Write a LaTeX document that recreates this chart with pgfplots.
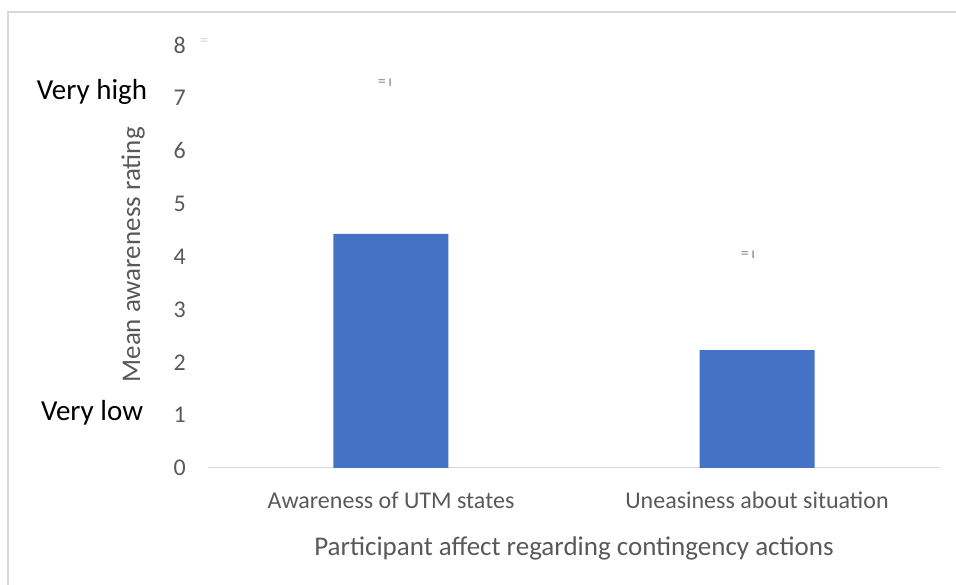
\documentclass[border=0pt]{standalone}
\usepackage{pgfplots}
\pgfplotsset{compat=1.18}
\usepackage{fontspec}
\setmainfont{Carlito}
\definecolor{barblue}{HTML}{4472C4}
\definecolor{txt}{HTML}{595959}
\definecolor{axgray}{HTML}{D9D9D9}
\begin{document}
\begin{tikzpicture}[x=1pt,y=1pt]
\path[use as bounding box] (-208,-117) rectangle (748,468);
\draw[axgray,line width=1.2pt] (-200,-117) -- (-200,456) -- (748,456);
\begin{axis}[
  at={(0,0)}, anchor=south west,
  scale only axis, width=732pt, height=423pt,
  xmin=-0.5, xmax=1.5, ymin=0, ymax=8,
  ytick={0,1,...,8},
  xtick={0,1},
  xticklabels={Awareness of UTM states, Uneasiness about situation},
  axis y line=none,
  axis x line*=bottom,
  axis line style={axgray, line width=1pt, -},
  x axis line style={-},
  xtick style={draw=none},
  ytick style={draw=none},
  ybar, bar width=115pt,
  tick label style={font=\fontsize{24}{28}\selectfont, text=txt},
  xticklabel style={yshift=-16pt},
  /pgf/number format/assume math mode=true,
  clip=false,
]
\addplot[fill=barblue, draw=none] coordinates {(0,4.43) (1,2.23)};
\pgfplotsextra{
  \foreach \v in {0,...,8} {\node[anchor=east, text=txt, font=\fontsize{24}{28}\selectfont, inner sep=0pt] at (axis cs:-0.5,\v) [xshift=-22pt] {\v};}
}
\node[xshift=-75pt, rotate=90, text=txt, font=\fontsize{27}{32}\selectfont] at (axis cs:-0.5,4.03) {Mean awareness rating};
\node[text=txt, font=\fontsize{27}{32}\selectfont] at (axis cs:0.5,0) [yshift=-80pt] {Participant affect regarding contingency actions};
\node[text=black, font=\fontsize{29}{33}\selectfont] at (axis cs:-0.5,7) [xshift=-116pt, yshift=6pt] {Very high};
\node[text=black, font=\fontsize{29}{33}\selectfont] at (axis cs:-0.5,1) [xshift=-116pt, yshift=2pt] {Very low};
\node[text=gray!90, font=\fontsize{16}{18}\selectfont] at (axis cs:0,7.28) [xshift=-6pt] {=\,ı};
\node[text=gray!90, font=\fontsize{16}{18}\selectfont] at (axis cs:1,4.03) [xshift=-9pt] {=\,ı};
\node[text=gray!35, font=\fontsize{16}{18}\selectfont] at (axis cs:-0.5,8.05) [xshift=-4pt] {=};
\end{axis}
\end{tikzpicture}
\end{document}
